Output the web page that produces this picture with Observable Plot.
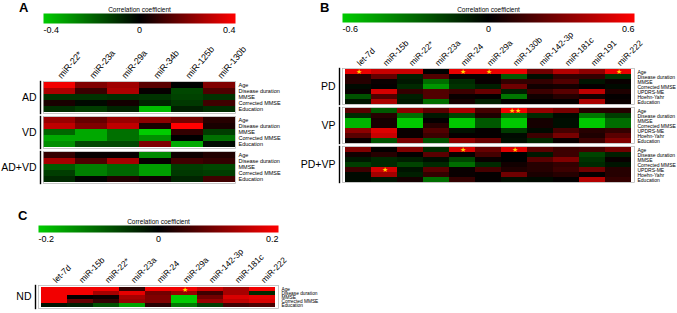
<!DOCTYPE html>
<html>
<head>
<meta charset="utf-8">
<script src="https://cdn.jsdelivr.net/npm/d3@7"></script>
<script src="https://cdn.jsdelivr.net/npm/@observablehq/plot@0.6"></script>
<style>
  body { margin: 0; background: white; }
  #wrap { position: relative; width: 677px; height: 313px; overflow: hidden; font-family: "Liberation Sans", Arial, sans-serif; }
  #wrap svg { position: absolute; }
  .plabel { position: absolute; font: bold 13px/13px "Liberation Sans", Arial, sans-serif; }
</style>
</head>
<body>
<div id="wrap">
  <div class="plabel" style="left:19px;top:1px">A</div>
  <div class="plabel" style="left:320px;top:1px">B</div>
  <div class="plabel" style="left:18px;top:209px">C</div>
</div>
<script>
// ---------- Panel A ----------
const aMirs = ["miR-22*", "miR-23a", "miR-29a", "miR-34b", "miR-125b", "miR-130b"];
const aVars = ["Age", "Disease duration", "MMSE", "Corrected MMSE", "Education"];
const aGroups = ["AD", "VD", "AD+VD"];
const aTicks = [-0.4, 0, 0.4];
const aAD = [
  [0.38, 0.20, 0.25, 0.14, 0.00, 0.20],
  [0.27, 0.09, 0.27, 0.01, -0.14, 0.12],
  [-0.10, -0.10, -0.09, -0.10, -0.13, -0.10],
  [0.04, -0.02, 0.03, -0.07, -0.11, 0.10],
  [-0.09, -0.12, -0.07, -0.37, -0.06, -0.09]
];
const aVD = [
  [0.24, 0.16, 0.24, 0.22, 0.18, 0.06],
  [0.30, 0.20, 0.30, 0.04, 0.40, 0.04],
  [-0.20, -0.33, -0.22, -0.40, 0.08, -0.12],
  [-0.33, -0.33, -0.22, -0.28, 0.00, -0.22],
  [-0.28, -0.14, -0.14, 0.20, -0.33, -0.02]
];
const aADVD = [
  [0.08, 0.01, 0.01, -0.27, 0.02, 0.05],
  [0.26, 0.12, 0.26, 0.01, 0.10, 0.08],
  [-0.18, -0.25, -0.20, -0.31, -0.12, -0.14],
  [-0.12, -0.25, -0.20, -0.31, -0.11, -0.12],
  [-0.08, -0.01, 0.05, 0.02, -0.07, 0.10]
];

// ---------- Panel B ----------
const bMirs = ["let-7d", "miR-15b", "miR-22*", "miR-23a", "miR-24", "miR-29a", "miR-130b", "miR-142-3p", "miR-181c", "miR-191", "miR-222"];
const bVars = ["Age", "Disease duration", "MMSE", "Corrected MMSE", "UPDRS-ME", "Hoehn-Yahr", "Education"];
const bGroups = ["PD", "VP", "PD+VP"];
const bTicks = [-0.6, 0, 0.6];
const bPD = [
  [0.55, 0.47, 0.47, 0.00, 0.55, 0.55, 0.55, 0.26, 0.42, 0.33, 0.55],
  [0.09, 0.23, -0.09, 0.19, 0.02, 0.02, -0.26, -0.04, 0.12, 0.12, -0.15],
  [0.09, 0.02, -0.07, -0.32, -0.12, 0.02, 0.12, 0.12, 0.19, -0.06, 0.02],
  [-0.03, 0.01, -0.12, -0.44, -0.15, -0.09, 0.26, 0.04, 0.05, 0.01, -0.03],
  [0.02, 0.50, 0.12, 0.19, 0.14, 0.24, -0.09, 0.14, 0.21, 0.45, 0.07],
  [-0.24, 0.19, -0.09, 0.19, 0.02, 0.01, -0.35, 0.04, 0.09, 0.05, 0.01],
  [-0.06, 0.40, -0.07, -0.32, 0.05, -0.09, 0.01, 0.01, 0.01, 0.40, 0.02]
];
const bVP = [
  [0.21, -0.26, 0.33, 0.21, 0.40, 0.16, 0.57, 0.35, 0.28, 0.09, 0.09],
  [-0.12, 0.09, -0.32, -0.07, -0.20, 0.07, -0.32, -0.12, -0.03, -0.35, -0.18],
  [-0.53, 0.05, -0.59, 0.01, -0.59, -0.26, -0.59, 0.05, -0.04, -0.59, -0.32],
  [-0.53, 0.05, -0.59, 0.09, -0.59, -0.26, -0.59, 0.05, -0.04, -0.59, -0.32],
  [0.33, 0.52, 0.02, 0.19, -0.05, 0.01, -0.17, -0.03, 0.16, 0.09, 0.12],
  [0.21, 0.47, 0.02, 0.14, 0.01, 0.01, -0.03, 0.14, 0.28, 0.07, 0.21],
  [0.02, -0.24, 0.28, -0.24, 0.33, 0.24, -0.04, -0.12, 0.02, 0.14, 0.30]
];
const bPDVP = [
  [0.30, 0.01, 0.30, -0.12, 0.50, 0.24, 0.52, 0.21, 0.14, 0.16, 0.26],
  [0.04, 0.09, 0.01, 0.21, 0.02, 0.16, 0.00, -0.07, 0.14, -0.20, -0.09],
  [-0.07, -0.12, -0.09, -0.04, -0.20, 0.02, 0.00, 0.21, 0.30, -0.15, 0.02],
  [-0.18, -0.12, -0.20, -0.12, -0.32, -0.12, 0.04, 0.09, 0.12, -0.12, -0.06],
  [0.14, 0.50, -0.06, 0.21, 0.02, 0.16, 0.07, 0.09, 0.14, 0.26, 0.09],
  [-0.03, 0.38, -0.09, 0.12, 0.02, 0.01, 0.26, 0.06, 0.09, 0.01, 0.09],
  [-0.03, -0.06, 0.05, -0.32, 0.12, 0.01, -0.04, -0.03, 0.01, 0.42, 0.12]
];
const bStarGroup = ["PD", "PD", "PD", "PD", "VP", "PD+VP", "PD+VP", "PD+VP"];
const bStarVar = ["Age", "Age", "Age", "Age", "Age", "Age", "Age", "UPDRS-ME"];
const bStarMir = ["let-7d", "miR-24", "miR-29a", "miR-222", "miR-130b", "miR-24", "miR-130b", "miR-15b"];
const bStarText = ["★", "★", "★", "★", "★★", "★", "★", "★"];

// ---------- Panel C ----------
const cMirs = ["let-7d", "miR-15b", "miR-22*", "miR-23a", "miR-24", "miR-29a", "miR-142-3p", "miR-181c", "miR-222"];
const cVars = ["Age", "Disease duration", "MMSE", "Corrected MMSE", "Education"];
const cGroups = ["ND"];
const cTicks = [-0.2, 0, 0.2];
const cND = [
  [0.19, 0.19, 0.19, 0.04, 0.19, 0.19, 0.16, 0.13, 0.19],
  [0.19, 0.19, 0.13, 0.18, 0.09, 0.12, 0.05, 0.13, -0.04],
  [0.19, 0.00, 0.01, 0.13, 0.10, -0.20, 0.09, 0.17, 0.18],
  [0.19, 0.08, 0.04, 0.12, 0.10, -0.20, 0.12, 0.15, 0.17],
  [-0.02, -0.03, -0.08, -0.16, 0.03, -0.12, -0.06, 0.05, 0.06]
];
const cStarGroup = ["ND"];
const cStarVar = ["Age"];
const cStarMir = ["miR-29a"];
const cStarText = ["★"];

// ---------- drawing ----------
const GREEN = "#00cc00", RED = "#ff0000";
const FONT = "'Liberation Sans', Arial, sans-serif";
const wrap = document.getElementById("wrap");

function place(svg, left, top) {
  svg.style.left = left + "px";
  svg.style.top = top + "px";
  wrap.appendChild(svg);
}

function colorScale(max) {
  return {type: "linear", domain: [-max, 0, max], range: [GREEN, "#000000", RED], clamp: true};
}

function colorbar(ticks, {left, top, barWidth, barHeight, titleDy}) {
  const max = ticks[ticks.length - 1];
  const fmt = d => d === 0 ? "0" : String(d);
  const svg = Plot.plot({
    width: barWidth + 20, height: 13 + barHeight + 14,
    marginLeft: 10, marginRight: 10, marginTop: 13, marginBottom: 14,
    style: {background: "transparent", fontFamily: FONT, overflow: "visible"},
    x: {domain: [ticks[0], max], axis: null},
    y: {domain: [0, 1], axis: null},
    color: colorScale(max),
    marks: [
      Plot.raster({fill: (x, y) => x, x1: ticks[0], x2: max, y1: 0, y2: 1, width: 300, height: 1}),
      Plot.axisX([ticks[0]], {anchor: "bottom", tickSize: 0, tickPadding: 3, textAnchor: "start", fontSize: 9, tickFormat: fmt, label: null}),
      Plot.axisX([ticks[1]], {anchor: "bottom", tickSize: 0, tickPadding: 3, textAnchor: "middle", fontSize: 9, tickFormat: fmt, label: null}),
      Plot.axisX([ticks[2]], {anchor: "bottom", tickSize: 0, tickPadding: 3, textAnchor: "end", fontSize: 9, tickFormat: fmt, label: null}),
      Plot.text(["Correlation coefficient"], {frameAnchor: "top", dy: titleDy, fontSize: 6.5})
    ]
  });
  place(svg, left, top);
}

function heat(mirs, vars, groups, mats, ticks, stars, o) {
  const data = groups.flatMap((g, gi) => vars.flatMap((v, vi) => mirs.map((m, mi) => ({group: g, variable: v, mir: m, value: mats[gi][vi][mi]}))));
  const starData = stars.group.map((g, i) => ({group: g, variable: stars.variable[i], mir: stars.mir[i], t: stars.text[i]}));
  const max = ticks[ticks.length - 1];
  const svg = Plot.plot({
    width: o.marginLeft + o.frameWidth + o.marginRight,
    height: o.marginTop + o.frameHeight + 2,
    marginLeft: o.marginLeft, marginRight: o.marginRight, marginTop: o.marginTop, marginBottom: 2,
    style: {background: "transparent", fontFamily: FONT, overflow: "visible"},
    x: {domain: mirs, padding: 0, axis: null},
    y: {domain: vars, padding: 0, axis: null},
    fy: {domain: groups, paddingInner: o.gap, paddingOuter: 0, axis: null},
    color: colorScale(max),
    marks: [
      Plot.cell(data, {x: "mir", y: "variable", fy: "group", fill: "value", inset: 0}),
      Plot.frame({stroke: "#b0b0b0", strokeWidth: 0.7}),
      Plot.frame({anchor: "left", dx: -3, stroke: "black", strokeWidth: 1.4}),
      Plot.axisX({anchor: "top", tickRotate: o.rotate, textAnchor: "start", tickSize: 0, tickPadding: 4, fontSize: o.xFont, label: null}),
      Plot.axisY({anchor: "right", tickSize: 0, tickPadding: 3, fontSize: o.rowFont, label: null}),
      Plot.axisFy({anchor: "left", tickSize: 0, tickPadding: 7, fontSize: 10.5, label: null}),
      Plot.text(starData, {x: "mir", y: "variable", fy: "group", text: "t", fill: "#ffd400", fontSize: 6.5})
    ]
  });
  place(svg, o.left, o.top);
}

colorbar(aTicks, {left: 33, top: 0, barWidth: 192, barHeight: 10, titleDy: -6});
colorbar(bTicks, {left: 332, top: 0, barWidth: 292, barHeight: 9, titleDy: -6});
colorbar(cTicks, {left: 28, top: 212, barWidth: 240, barHeight: 7, titleDy: -6});

heat(aMirs, aVars, aGroups, [aAD, aVD, aADVD], aTicks,
  {group: [], variable: [], mir: [], text: []},
  {left: 0, top: 30, marginLeft: 43, marginRight: 60, marginTop: 50, frameWidth: 192, frameHeight: 103, gap: 0.1, xFont: 9, rowFont: 5.5, rotate: -50});

heat(bMirs, bVars, bGroups, [bPD, bVP, bPDVP], bTicks,
  {group: bStarGroup, variable: bStarVar, mir: bStarMir, text: bStarText},
  {left: 300, top: 25, marginLeft: 42, marginRight: 43, marginTop: 42, frameWidth: 292, frameHeight: 116, gap: 0.065, xFont: 8.5, rowFont: 5, rotate: -45});

heat(cMirs, cVars, cGroups, [cND], cTicks,
  {group: cStarGroup, variable: cStarVar, mir: cStarMir, text: cStarText},
  {left: 0, top: 245, marginLeft: 38, marginRight: 55, marginTop: 39, frameWidth: 240, frameHeight: 26, gap: 0.1, xFont: 8.5, rowFont: 4.8, rotate: -45});
</script>
</body>
</html>
